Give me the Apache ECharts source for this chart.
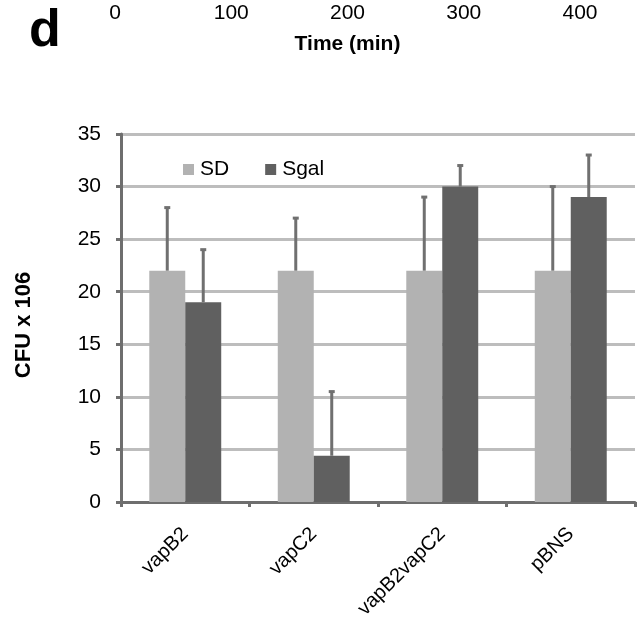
<!DOCTYPE html>
<html><head><meta charset="utf-8">
<script src="https://cdn.jsdelivr.net/npm/echarts@6/dist/echarts.min.js"></script>
<style>html,body{margin:0;padding:0;background:#fff}#c{width:644px;height:627px}</style>
</head><body><div id="c"></div>
<script>
var categories = ['vapB2', 'vapC2', 'vapB2vapC2', 'pBNS'];
var sdValues = [22, 22, 22, 22];
var sgalValues = [19, 4.4, 30, 29];
var sdErrTop = [28, 27, 29, 30];
var sgalErrTop = [24, 10.5, 32, 33];
var timeTicks = [0, 100, 200, 300, 400];
var yTicks = [0, 5, 10, 15, 20, 25, 30, 35];

var FONT = '"Liberation Sans", Arial, sans-serif';
var catGap = 0.44;

function errSeries(name, vals, tops, side) {
  return {
    type: 'custom', name: name + ' err', xAxisIndex: 0, yAxisIndex: 0, z: 5,
    data: vals.map(function (v, i) { return [i, v, tops[i]]; }),
    renderItem: function (params, api) {
      var i = api.value(0);
      var base = api.coord([i, api.value(1)]);
      var top = api.coord([i, api.value(2)]);
      var cw = api.size([1, 0])[0];
      var bw = cw * (1 - catGap) / 2;
      var x = base[0] + side * bw / 2;
      return {
        type: 'group', children: [
          { type: 'line', shape: { x1: x, y1: base[1], x2: x, y2: top[1] },
            style: { stroke: '#707070', lineWidth: 3 } },
          { type: 'rect', shape: { x: x - 3, y: top[1] - 1.5, width: 6, height: 3 },
            style: { fill: '#707070' } }
        ]
      };
    }
  };
}

var chart = echarts.init(document.getElementById('c'));
chart.setOption({
  animation: false,
  textStyle: { fontFamily: FONT },
  grid: [
    { left: 121, right: 9, top: 134, bottom: 125 },
    { left: 115, width: 465, top: 2, height: 1 }
  ],
  legend: {
    left: 178, top: 154, itemWidth: 11, itemHeight: 11, itemGap: 36,
    icon: 'rect',
    textStyle: { fontSize: 21, color: '#000', fontFamily: FONT, padding: [0, 0, 0, 1] },
    data: ['SD', 'Sgal']
  },
  xAxis: [
    { type: 'category', gridIndex: 0, data: categories,
      axisLine: { lineStyle: { color: '#6e6e6e', width: 3 } },
      axisTick: { show: true, alignWithLabel: false, length: 5, lineStyle: { color: '#6e6e6e', width: 3 } },
      axisLabel: { rotate: 45, fontSize: 20, color: '#000', margin: 29, fontFamily: FONT }
    },
    { type: 'value', gridIndex: 1, min: 0, max: 400, interval: 100,
      axisLine: { show: false }, axisTick: { show: false }, splitLine: { show: false },
      axisLabel: { fontSize: 21, color: '#000', margin: 0, fontFamily: FONT,
        customValues: timeTicks },
      name: 'Time (min)', nameLocation: 'middle', nameGap: 31,
      nameTextStyle: { fontSize: 21, fontWeight: 'bold', color: '#000', fontFamily: FONT }
    }
  ],
  yAxis: [
    { type: 'value', gridIndex: 0, min: 0, max: 35, interval: 5,
      axisLine: { show: true, lineStyle: { color: '#6e6e6e', width: 3 } },
      axisTick: { show: true, length: 5, lineStyle: { color: '#6e6e6e', width: 3 } },
      splitLine: { lineStyle: { color: '#bdbdbd', width: 3 } },
      axisLabel: { fontSize: 21, color: '#000', margin: 20, fontFamily: FONT },
      name: 'CFU x 106', nameLocation: 'middle', nameGap: 86, nameRotate: 90,
      nameTextStyle: { fontSize: 22, fontWeight: 'bold', color: '#000', fontFamily: FONT,
        padding: [0, 14, 0, 0] }
    },
    { type: 'value', gridIndex: 1, show: false, min: 0, max: 1 }
  ],
  series: [
    { name: 'SD', type: 'bar', data: sdValues, barGap: '0%', barCategoryGap: (catGap * 100) + '%',
      itemStyle: { color: '#b2b2b2' }, z: 3 },
    { name: 'Sgal', type: 'bar', data: sgalValues, barGap: '0%', barCategoryGap: (catGap * 100) + '%',
      itemStyle: { color: '#606060' }, z: 3 },
    errSeries('SD', sdValues, sdErrTop, -1),
    errSeries('Sgal', sgalValues, sgalErrTop, 1)
  ],
  graphic: [
    { type: 'text', left: 29, top: 6,
      style: { text: 'd', font: 'bold 52px ' + FONT, fill: '#000' } }
  ]
});
</script></body></html>
